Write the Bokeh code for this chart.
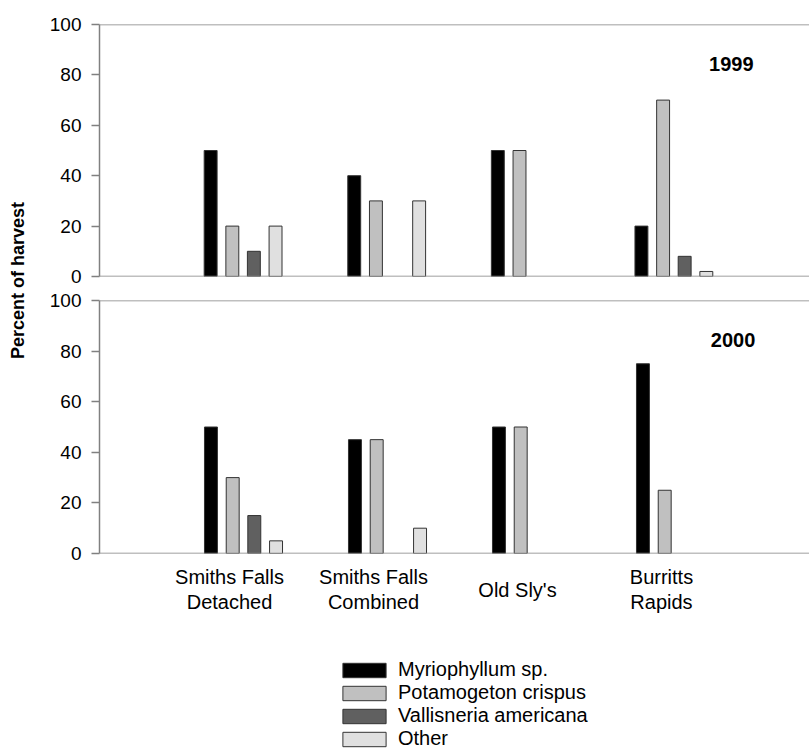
from bokeh.plotting import figure
from bokeh.layouts import row, column
from bokeh.models import (ColumnDataSource, Range1d, FixedTicker, Span, Label, Legend,
                          LegendItem, CDSView, BooleanFilter)
from bokeh.transform import dodge
from bokeh.core.properties import value
from bokeh.embed import file_html
from bokeh.resources import INLINE

sites = ["Smiths Falls\nDetached", "Smiths Falls\nCombined", "Old Sly's", "Burritts\nRapids"]
species = ["Myriophyllum sp.", "Potamogeton crispus", "Vallisneria americana", "Other"]
colors = ["#000000", "#c0c0c0", "#606060", "#e0e0e0"]
offsets = [-0.226, -0.075, 0.075, 0.226]

myrio_1999 = [50, 40, 50, 20]
potam_1999 = [20, 30, 50, 70]
valli_1999 = [10, 0, 0, 8]
other_1999 = [20, 30, 0, 2]

myrio_2000 = [50, 45, 50, 75]
potam_2000 = [30, 45, 50, 25]
valli_2000 = [15, 0, 0, 0]
other_2000 = [5, 10, 0, 0]

years = ["1999", "2000"]
series_by_year = [
    [myrio_1999, potam_1999, valli_1999, other_1999],
    [myrio_2000, potam_2000, valli_2000, other_2000],
]

FONT = "Liberation Sans"
AXIS_COLOR = "#808080"
OUTLINE = "#333333"
xpos = list(range(1, len(sites) + 1))
LAB_W = 38
P_WIDTH = 809 - LAB_W
PX_PER_CAT = 144.0


def make_panel(year, series, bottom):
    left = 61 if bottom else 59
    top = 12 if bottom else 24
    frame_h = 253 if bottom else 252
    bot = 10 if bottom else 12
    x_end = (P_WIDTH - left) / PX_PER_CAT
    p = figure(width=P_WIDTH, height=top + frame_h + bot, output_backend="svg",
               toolbar_location=None,
               x_range=Range1d(0, x_end), y_range=Range1d(0, 100),
               x_axis_location=None,
               min_border_left=left, min_border_right=0, min_border_top=top,
               min_border_bottom=bot)
    p.outline_line_color = None
    p.grid.visible = False

    src = ColumnDataSource(dict(x=xpos, **{f"s{i}": s for i, s in enumerate(series)}))
    for i, (name, col, off) in enumerate(zip(species, colors, offsets)):
        view = CDSView(filter=BooleanFilter([v > 0 for v in series[i]]))
        p.vbar(x=dodge("x", off, range=p.x_range), top=f"s{i}", bottom=0, width=0.09,
               source=src, view=view, fill_color=col, line_color=OUTLINE, line_width=1)

    yax = p.yaxis[0]
    yax.ticker = FixedTicker(ticks=[0, 20, 40, 60, 80, 100])
    yax.axis_line_color = AXIS_COLOR
    yax.axis_line_width = 1.5
    yax.major_tick_line_color = AXIS_COLOR
    yax.major_tick_line_width = 1.5
    yax.major_tick_in = 0
    yax.major_tick_out = 8
    yax.minor_tick_line_color = None
    yax.major_label_standoff = 10
    yax.major_label_text_font = FONT
    yax.major_label_text_font_size = "19px"
    yax.major_label_text_color = "#000000"

    p.add_layout(Span(location=100, dimension="width", line_color=AXIS_COLOR, line_width=1.5))
    p.add_layout(Span(location=0, dimension="width", line_color=AXIS_COLOR, line_width=1.5))

    p.add_layout(Label(x=4.4, y=84.5, text=year, text_font=FONT, text_font_size="20px",
                       text_font_style="bold", text_align="center", text_baseline="middle",
                       text_color="#000000"))
    return p


p1 = make_panel(years[0], series_by_year[0], bottom=False)
p2 = make_panel(years[1], series_by_year[1], bottom=True)

# strip below the lower panel: site names and legend
p3 = figure(width=P_WIDTH, height=190, output_backend="svg", toolbar_location=None,
            x_range=p2.x_range, y_range=Range1d(0, 1),
            x_axis_location=None, y_axis_location=None,
            min_border_left=61, min_border_right=0, min_border_top=0, min_border_bottom=0)
p3.outline_line_color = None
p3.grid.visible = False
site_src = ColumnDataSource(dict(x=xpos, y=[0.863] * len(xpos), t=sites))
p3.text(x="x", y="y", text="t", source=site_src, x_offset=-14,
        text_font=value(FONT), text_font_size="20px", text_color="#000000",
        text_align="center", text_baseline="middle", text_line_height=1.1)

legend_renderers = []
nan = float("nan")
for col in colors:
    r = p3.vbar(x=[nan], top=[nan], width=0.09, fill_color=col, line_color=OUTLINE,
                line_width=1)
    legend_renderers.append(r)

legend = Legend(items=[LegendItem(label=s, renderers=[r]) for s, r in zip(species, legend_renderers)],
                location=(238, 3), orientation="vertical",
                glyph_width=54, glyph_height=18, label_standoff=7, spacing=0,
                label_text_font=FONT, label_text_font_size="20px", label_height=20,
                label_text_color="#000000", label_text_baseline="middle",
                border_line_color=None, background_fill_alpha=0, padding=0,
                margin=0)
p3.add_layout(legend)

lab = figure(width=LAB_W, height=560, output_backend="svg", toolbar_location=None,
             title="Percent of harvest", title_location="left",
             x_axis_location=None, y_axis_location=None, min_border=0)
lab.outline_line_color = None
lab.grid.visible = False
lab.title.text_font = FONT
lab.title.text_font_size = "18px"
lab.title.text_font_style = "bold"
lab.title.text_color = "#000000"
lab.title.align = "center"
lab.scatter([0], [0], alpha=0)

layout = row(lab, column(p1, p2, p3, spacing=0), spacing=0)

open("out.html", "w").write(file_html(layout, INLINE))
